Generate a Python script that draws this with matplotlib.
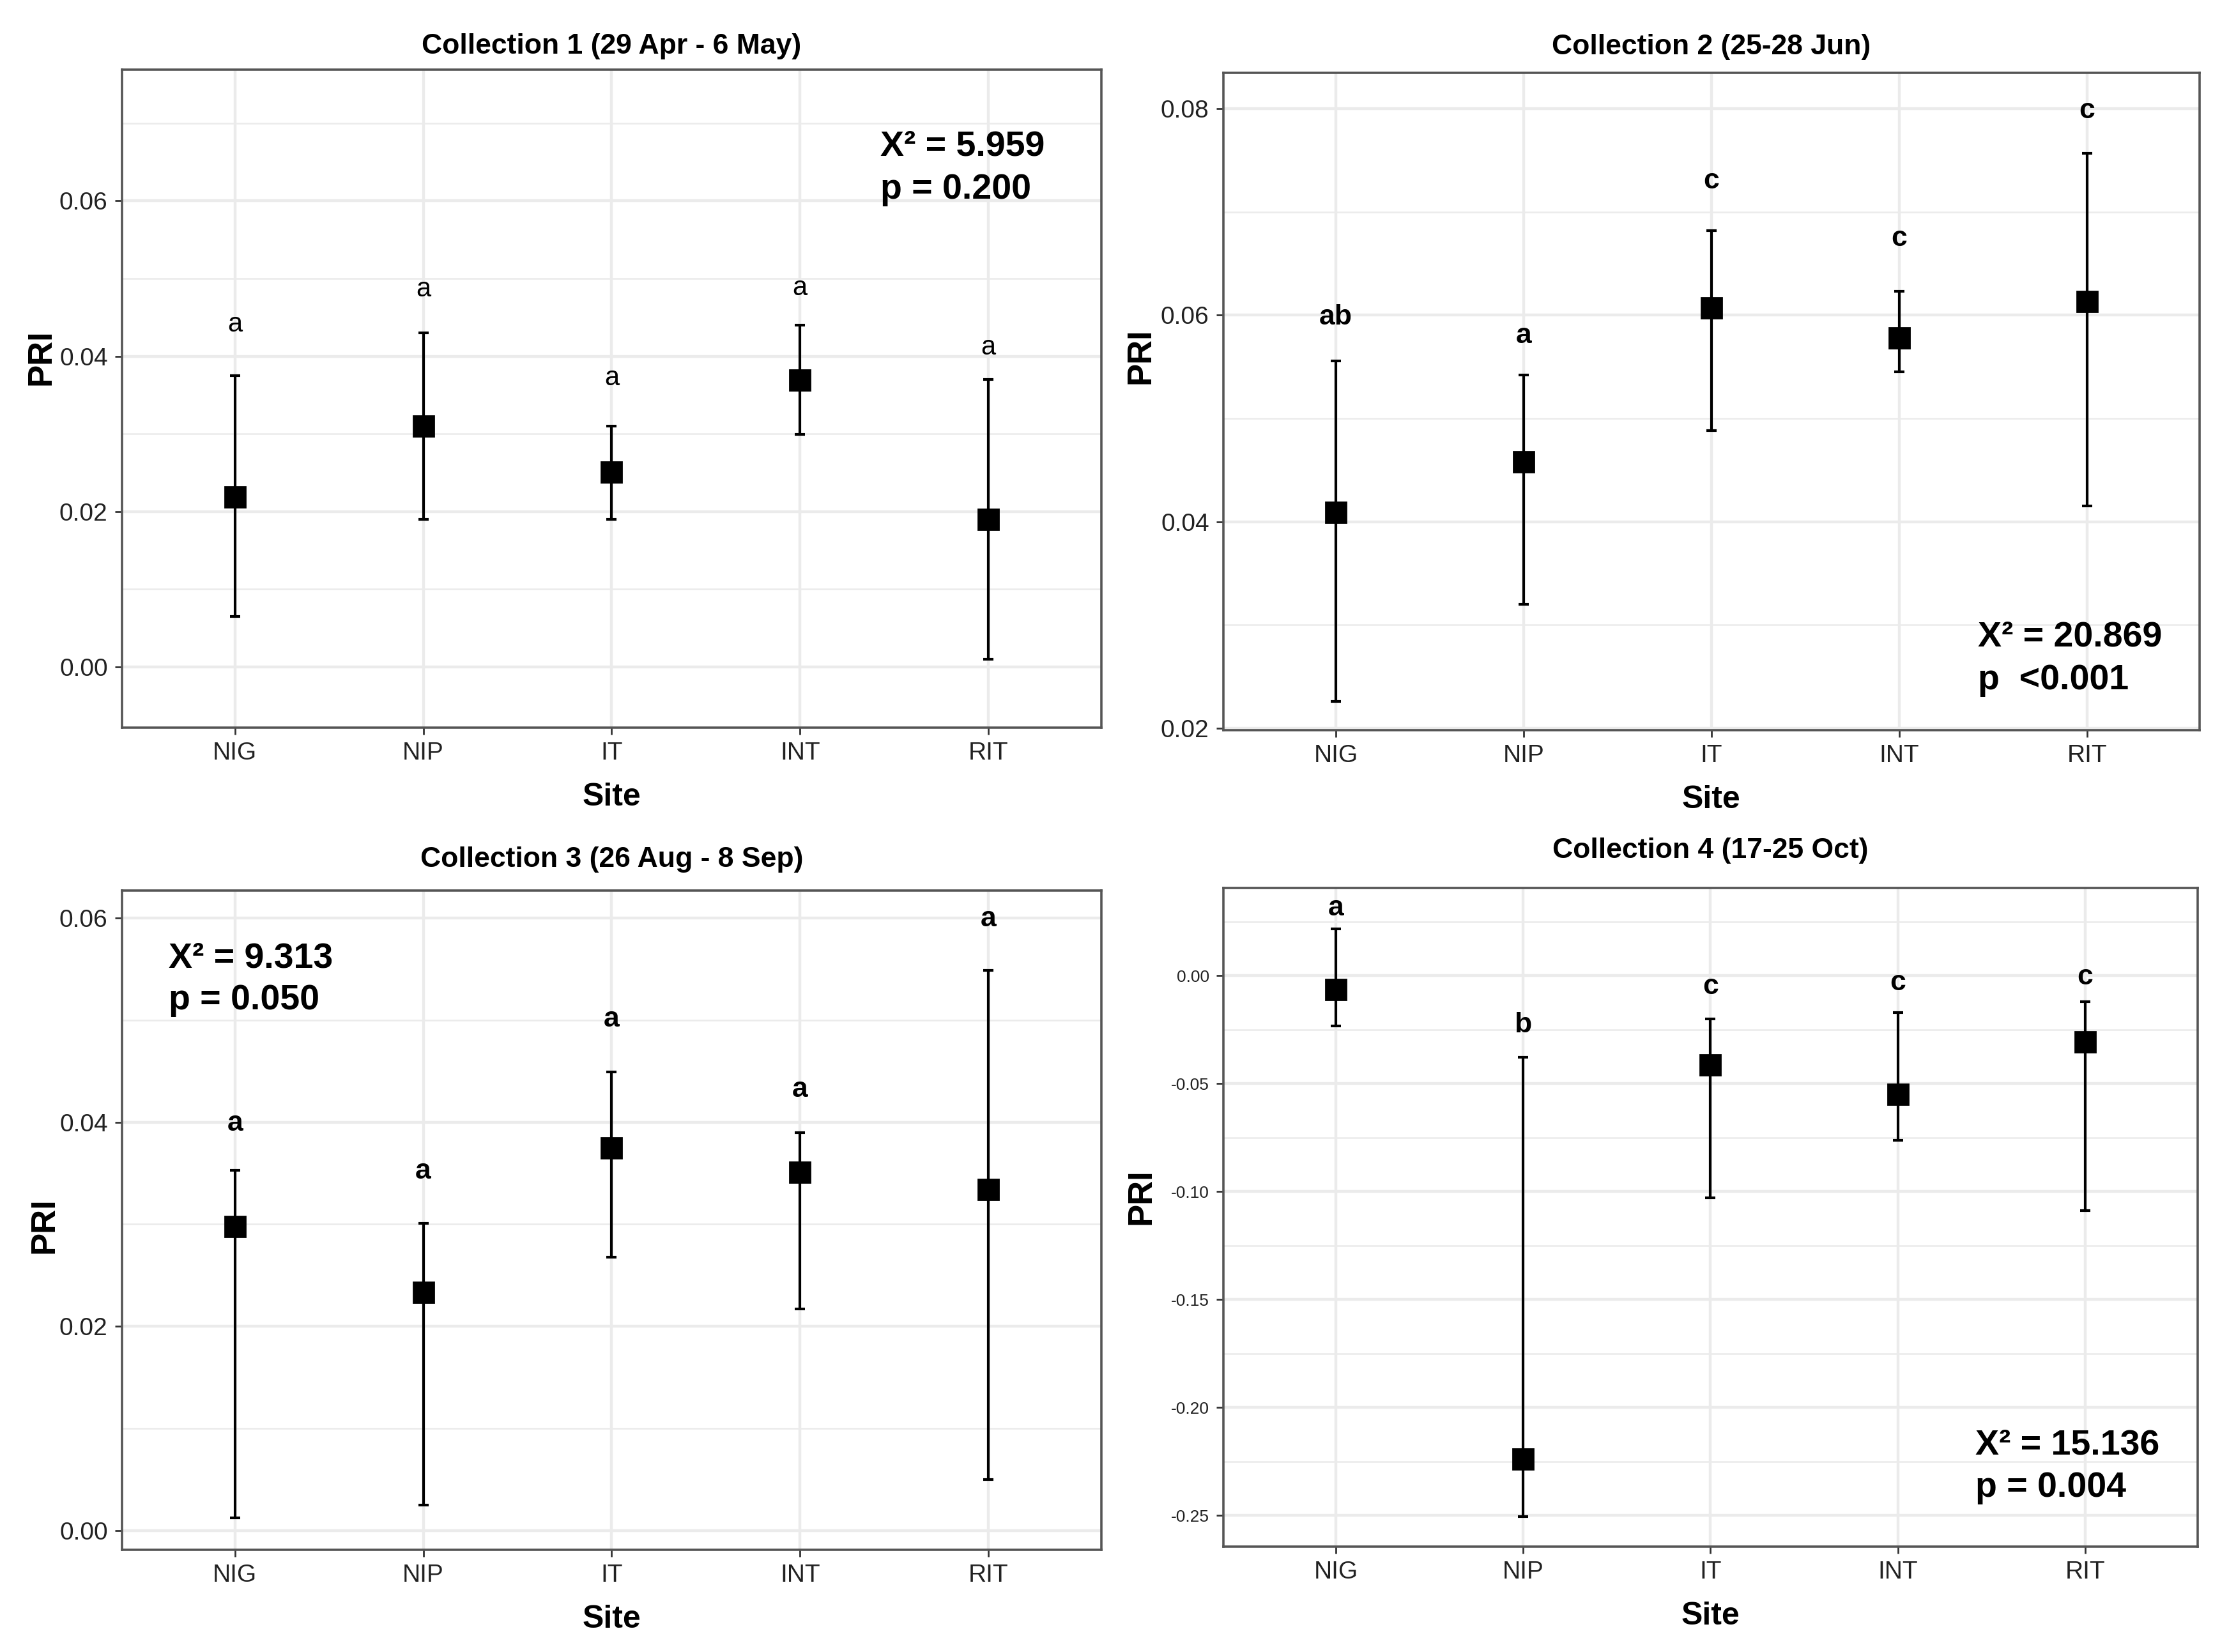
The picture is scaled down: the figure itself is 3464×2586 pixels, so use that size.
import numpy as np
import matplotlib
matplotlib.use("Agg")
from matplotlib import pyplot as plt
from matplotlib.ticker import MultipleLocator, FormatStrFormatter

plt.rcParams['font.family'] = ['Liberation Sans', 'DejaVu Sans']
plt.rcParams['axes.unicode_minus'] = False

sites = ["NIG", "NIP", "IT", "INT", "RIT"]

# collection 1
c1_mean = [0.0219, 0.0310, 0.0251, 0.0369, 0.0190]
c1_upper = [0.0375, 0.0430, 0.0310, 0.0440, 0.0370]
c1_lower = [0.0065, 0.0190, 0.0190, 0.0299, 0.0010]
c1_letters = ["a", "a", "a", "a", "a"]
c1_letter_y = [0.0441, 0.0486, 0.0372, 0.0488, 0.0411]

# collection 2
c2_mean = [0.0409, 0.0458, 0.0607, 0.0578, 0.0613]
c2_upper = [0.0556, 0.0542, 0.0682, 0.0623, 0.0757]
c2_lower = [0.0226, 0.0320, 0.0488, 0.0545, 0.0415]
c2_letters = ["ab", "a", "c", "c", "c"]
c2_letter_y = [0.0598, 0.0580, 0.0730, 0.0674, 0.0798]

# collection 3
c3_mean = [0.0298, 0.0233, 0.0375, 0.0351, 0.0334]
c3_upper = [0.0353, 0.0301, 0.0449, 0.0390, 0.0549]
c3_lower = [0.0012, 0.0025, 0.0268, 0.0217, 0.0050]
c3_letters = ["a", "a", "a", "a", "a"]
c3_letter_y = [0.0399, 0.0352, 0.0501, 0.0432, 0.0599]

# collection 4
c4_mean = [-0.0064, -0.2238, -0.0412, -0.0549, -0.0306]
c4_upper = [0.0218, -0.0377, -0.0199, -0.0169, -0.0120]
c4_lower = [-0.0233, -0.2507, -0.1029, -0.0762, -0.1088]
c4_letters = ["a", "b", "c", "c", "c"]
c4_letter_y = [0.0314, -0.0228, -0.0049, -0.0032, -0.0007]

titles = ["Collection 1 (29 Apr - 6 May)", "Collection 2 (25-28 Jun)",
          "Collection 3 (26 Aug - 8 Sep)", "Collection 4 (17-25 Oct)"]
chi_text = ["X² = 5.959", "X² = 20.869", "X² = 9.313", "X² = 15.136"]
p_text = ["p = 0.200", "p  <0.001", "p = 0.050", "p = 0.004"]

panels = [
    (c1_mean, c1_upper, c1_lower, c1_letters, c1_letter_y),
    (c2_mean, c2_upper, c2_lower, c2_letters, c2_letter_y),
    (c3_mean, c3_upper, c3_lower, c3_letters, c3_letter_y),
    (c4_mean, c4_upper, c4_lower, c4_letters, c4_letter_y),
]

# layout
axes_rect = [[0.0551, 0.5596, 0.4426, 0.3983],
             [0.5528, 0.5580, 0.4411, 0.3980],
             [0.0551, 0.0619, 0.4426, 0.3990],
             [0.5528, 0.0638, 0.4402, 0.3987]]
ylims = [(-0.0078, 0.0769), (0.0198, 0.0835), (-0.0019, 0.0627), (-0.2645, 0.0407)]
major_step = [0.02, 0.02, 0.02, 0.05]
stat_pos = [(0.774, 0.883, 0.817), (0.773, 0.141, 0.076),
            (0.048, 0.897, 0.833), (0.772, 0.154, 0.089)]
ylabel_pos = [(-0.066, 0.563), (-0.068, 0.569), (-0.063, 0.492), (-0.068, 0.531)]
title_pad = [9, 10.5, 13.5, 17]
letter_bold = [False, True, True, True]
letter_size = [15, 16, 16, 16]
ytick_size = [14, 14, 14, 9.5]

fig = plt.figure(figsize=(17.32, 12.93), dpi=200)

for i in range(4):
    mean, upper, lower, letters, letter_y = panels[i]
    mean = np.array(mean)
    yerr = [mean - np.array(lower), np.array(upper) - mean]
    x = np.arange(1, len(sites) + 1)

    ax = fig.add_axes(axes_rect[i])
    ax.set_axisbelow(True)
    ax.errorbar(x, mean, yerr=yerr, ls="None", color="black", elinewidth=1.5,
                capsize=3, capthick=1.5, zorder=3)
    ax.plot(x, mean, ls="None", marker="s", markersize=11.5, color="black", zorder=4)

    for j in range(len(sites)):
        ax.text(x[j], letter_y[j], letters[j], ha="center", va="center",
                fontsize=letter_size[i],
                fontweight="bold" if letter_bold[i] else "normal", zorder=5)

    sx, sy1, sy2 = stat_pos[i]
    ax.text(sx, sy1, chi_text[i], transform=ax.transAxes, ha="left", va="center",
            fontsize=20, fontweight="bold")
    ax.text(sx, sy2, p_text[i], transform=ax.transAxes, ha="left", va="center",
            fontsize=20, fontweight="bold")

    ax.set_xlim(0.4, 5.6)
    ax.set_ylim(*ylims[i])
    ax.set_xticks(x)
    ax.set_xticklabels(sites)
    ax.yaxis.set_major_locator(MultipleLocator(major_step[i]))
    ax.yaxis.set_minor_locator(MultipleLocator(major_step[i] / 2))
    ax.yaxis.set_major_formatter(FormatStrFormatter("%.2f"))

    ax.grid(True, which="major", color="#EBEBEB", linewidth=1.6)
    ax.grid(True, which="minor", axis="y", color="#EBEBEB", linewidth=0.9)
    ax.tick_params(axis="both", which="major", length=4, width=1.0, color="#333333",
                   pad=4, labelcolor="#222222")
    ax.tick_params(axis="x", labelsize=14)
    ax.tick_params(axis="y", labelsize=ytick_size[i])
    ax.tick_params(axis="y", which="minor", length=0)
    for sp in ax.spines.values():
        sp.set_color("#555555")
        sp.set_linewidth(1.3)

    ax.set_title(titles[i], fontsize=16, fontweight="bold", pad=title_pad[i])
    ax.set_xlabel("Site", fontsize=18, fontweight="bold", labelpad=10)
    ax.set_ylabel("PRI", fontsize=19, fontweight="bold")
    ax.yaxis.set_label_coords(*ylabel_pos[i])

fig.savefig("out.png", dpi=200, facecolor="white")
